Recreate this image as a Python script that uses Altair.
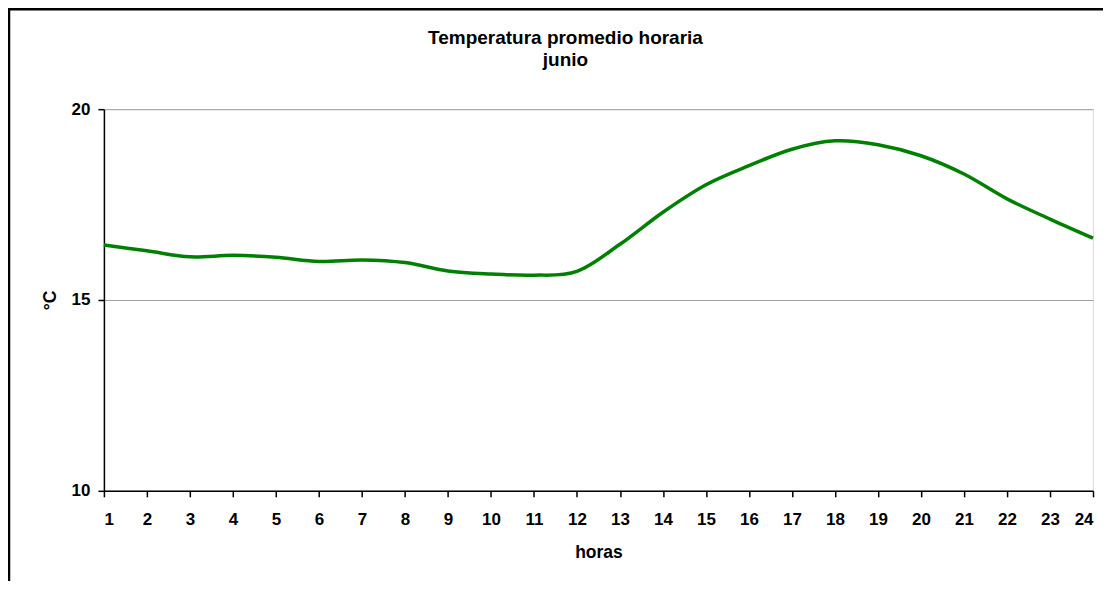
import altair as alt
import pandas as pd

# ---- data ----
hours = list(range(1, 25))
temps = [16.44, 16.29, 16.13, 16.17, 16.12, 16.01, 16.05, 15.98, 15.76, 15.68, 15.65, 15.75,
         16.46, 17.30, 18.02, 18.52, 18.95, 19.17, 19.07, 18.78, 18.30, 17.65, 17.12, 16.62]
y_ticks = [10, 15, 20]
title_lines = ["Temperatura promedio horaria", "junio"]
x_title = "horas"
y_title = "°C"

df = pd.DataFrame({"hora": hours, "temp": temps})
FONT = "Liberation Sans"

line = alt.Chart(df).mark_line(
    color="#008000", strokeWidth=3.5, interpolate="cardinal"
).encode(
    x=alt.X("hora:Q",
            scale=alt.Scale(domain=[1, 24], nice=False, zero=False),
            axis=alt.Axis(values=hours, title=x_title, grid=False, format="d",
                          labelFontSize=17, labelFontWeight="bold", labelFont=FONT,
                          labelColor="black", labelPadding=15,
                          tickSize=6, tickColor="black", tickWidth=1.5,
                          domainColor="black", domainWidth=1.5,
                          titleFontSize=17.5, titleFont=FONT, titleFontWeight="bold",
                          titleColor="black", titlePadding=16)),
    y=alt.Y("temp:Q",
            scale=alt.Scale(domain=[10, 20], nice=False, zero=False),
            axis=alt.Axis(values=y_ticks, title=y_title, grid=True,
                          gridColor="#a0a0a0", gridWidth=1,
                          labelFontSize=17, labelFontWeight="bold", labelFont=FONT,
                          labelColor="black", labelPadding=8,
                          tickSize=6, tickColor="black", tickWidth=1.5,
                          domainColor="black", domainWidth=1.5,
                          titleFontSize=17.5, titleFont=FONT, titleFontWeight="bold",
                          titleColor="black", titlePadding=12)),
)

frame = alt.Chart(pd.DataFrame({"k": [0]})).mark_rect(
    fill="transparent", stroke="black", strokeWidth=2.5
).encode(
    x=alt.value(-95), x2=alt.value(1300), y=alt.value(-100), y2=alt.value(1000)
)

chart = alt.layer(frame, line).properties(
    width=990,
    height=382,
    padding={"left": 96, "top": 101, "right": 10, "bottom": 90},
    autosize=alt.AutoSizeParams(type="none"),
    title=alt.TitleParams(text=title_lines, fontSize=19, font=FONT, fontWeight="bold",
                          color="black", anchor="middle", frame="group", dx=-33,
                          offset=-62, lineHeight=22),
).configure_view(
    stroke="#a0a0a0", strokeWidth=1
).configure(background="white")

chart.save("out.html", embed_options={"renderer": "svg", "actions": False})
